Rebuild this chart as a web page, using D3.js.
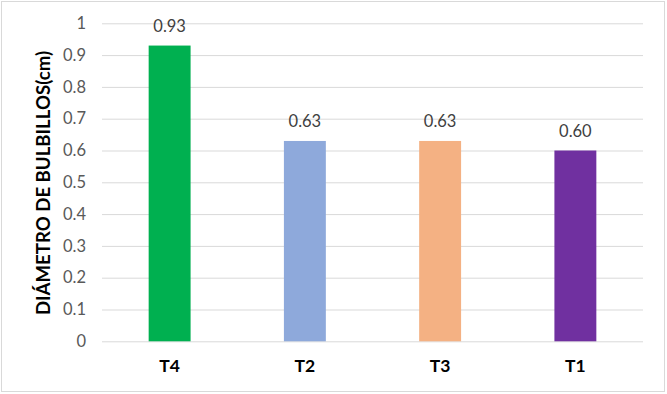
<!DOCTYPE html>
<html><head><meta charset="utf-8">
<script src="https://cdn.jsdelivr.net/npm/d3@7"></script>
<style>html,body{margin:0;padding:0;background:#fff;}svg{display:block;}</style>
</head><body>
<script>
const categories = ["T4", "T2", "T3", "T1"];
const values = [0.93, 0.63, 0.63, 0.60];
const valueLabels = ["0.93", "0.63", "0.63", "0.60"];
const colors = ["#00B050", "#8EA9DB", "#F4B183", "#7030A0"];
const yTicks = [0, 0.1, 0.2, 0.3, 0.4, 0.5, 0.6, 0.7, 0.8, 0.9, 1];
const yTickLabels = ["0", "0.1", "0.2", "0.3", "0.4", "0.5", "0.6", "0.7", "0.8", "0.9", "1"];
const yTitle = "DIÁMETRO DE BULBILLOS(cm)";

(function () {
const W = 667, H = 394;
const font = "Lato, 'Open Sans', sans-serif";
const svg = d3.select("body").append("svg").attr("width", W).attr("height", H);
svg.append("rect").attr("x", 0).attr("y", 0).attr("width", W).attr("height", H).attr("fill", "#fff");
svg.append("rect").attr("x", 1.5).attr("y", 1.5).attr("width", 663).attr("height", 390)
  .attr("fill", "#fff").attr("stroke", "#d9d9d9").attr("stroke-width", 1);

const pl = 102, pr = 643, pt = 23.3, pb = 341.3;
const x = d3.scaleBand().domain(categories).range([pl, pr]).paddingInner(0.69).paddingOuter(0.345);
const y = d3.scaleLinear().domain([0, 1]).range([pb, pt]);

const g = svg.append("g");
const yAxis = d3.axisLeft(y).tickValues(yTicks).tickSize(-(pr - pl))
  .tickFormat((d, i) => yTickLabels[i]).tickPadding(16);
const ya = g.append("g").attr("transform", `translate(${pl},0)`).call(yAxis);
ya.select(".domain").remove();
ya.selectAll(".tick line").attr("stroke", "#d9d9d9").attr("stroke-width", 1);
ya.selectAll(".tick text").attr("fill", "#595959").style("font-family", font).style("font-size", "16.5px");

g.selectAll("rect.bar").data(values).join("rect").attr("class", "bar")
  .attr("x", (d, i) => x(categories[i])).attr("width", x.bandwidth())
  .attr("y", d => y(d)).attr("height", d => y(0) - y(d))
  .attr("fill", (d, i) => colors[i]);

g.selectAll("text.val").data(values).join("text").attr("class", "val")
  .attr("x", (d, i) => x(categories[i]) + x.bandwidth() / 2)
  .attr("y", d => y(d) - 13.5)
  .attr("text-anchor", "middle").attr("fill", "#404040")
  .style("font-family", font).style("font-size", "16.5px")
  .text((d, i) => valueLabels[i]);

const xAxis = d3.axisBottom(x).tickSize(0).tickPadding(18);
const xa = g.append("g").attr("transform", `translate(0,${pb})`).call(xAxis);
xa.select(".domain").remove();
xa.selectAll(".tick text").attr("fill", "#000").style("font-family", font)
  .style("font-size", "17.5px").style("font-weight", "bold");

svg.append("text").attr("transform", `translate(50,183) rotate(-90)`)
  .attr("text-anchor", "middle").attr("fill", "#000")
  .style("font-family", font).style("font-size", "18.6px").style("font-weight", "bold")
  .text(yTitle);
})();
</script>
</body></html>
